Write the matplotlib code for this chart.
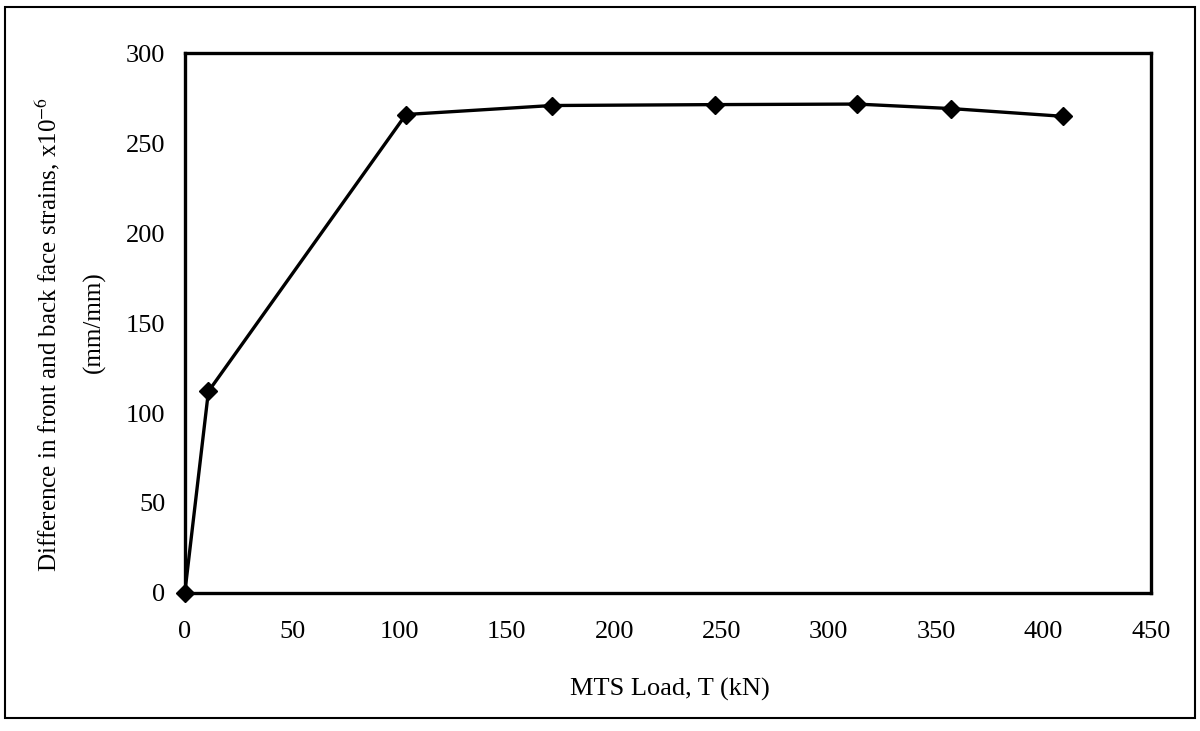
import matplotlib.pyplot as plt
from matplotlib.patches import Rectangle

plt.rcParams['font.family'] = ['Liberation Serif', 'DejaVu Serif']
plt.rcParams['mathtext.fontset'] = 'stix'

# data
load_kN = [0, 11, 103, 171, 247, 313, 357, 409]
strain_diff = [0, 112, 266, 271, 271.5, 271.8, 269.3, 265]

x_ticks = [0, 50, 100, 150, 200, 250, 300, 350, 400, 450]
y_ticks = [0, 50, 100, 150, 200, 250, 300]

fig = plt.figure(figsize=(12, 7.31), dpi=100)
ax = fig.add_axes([0.154, 0.189, 0.805, 0.738])

ax.plot(load_kN, strain_diff, color='black', lw=2.4, marker='D',
        markersize=9.5, markerfacecolor='black', markeredgecolor='black',
        clip_on=False, zorder=3)

ax.set_xlim(0, 450)
ax.set_ylim(0, 300)
ax.set_xticks(x_ticks)
ax.set_yticks(y_ticks)
ax.tick_params(length=0, labelsize=19)
ax.tick_params(axis='y', pad=14)
ax.tick_params(axis='x', pad=20)
for s in ax.spines.values():
    s.set_linewidth(2.4)

fig.text(0.558, 0.057, 'MTS Load, T (kN)', ha='center', va='center', fontsize=19)
fig.text(0.040, 0.542, 'Difference in front and back face strains, x10$^{-6}$',
         rotation=90, ha='center', va='center', fontsize=18)
fig.text(0.079, 0.56, '(mm/mm)', rotation=90, ha='center', va='center', fontsize=18)

# outer border around the chart
fig.patches.append(Rectangle((0.004, 0.018), 0.992, 0.972, transform=fig.transFigure,
                             fill=False, edgecolor='black', lw=1.5))

fig.savefig('out.png', dpi=100)
